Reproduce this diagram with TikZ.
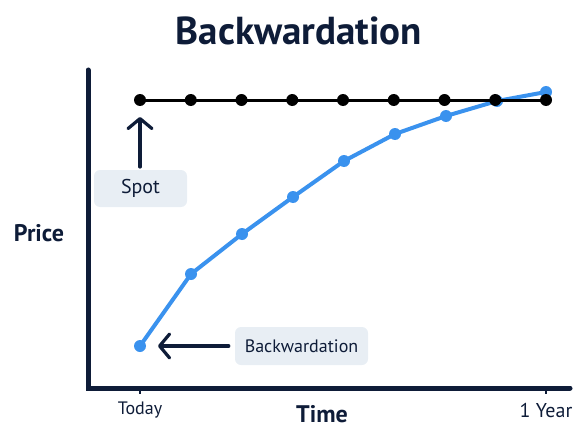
\documentclass[tikz,border=0pt]{standalone}
\usepackage{fontspec}
\setmainfont{PT Sans}
\usetikzlibrary{arrows.meta}
\definecolor{navy}{HTML}{0E1C38}
\definecolor{lineblue}{HTML}{3A92EE}
\definecolor{boxfill}{HTML}{E8EEF4}
\tikzset{
  axisline/.style={navy,line width=5pt,line cap=round},
  spotline/.style={black,line width=3pt},
  bwline/.style={lineblue,line width=4pt,line join=round},
  spotdot/.style={circle,fill=black,inner sep=0pt,minimum size=12pt},
  bwdot/.style={circle,fill=lineblue,inner sep=0pt,minimum size=12pt},
  labelbox/.style={rounded corners=6pt,fill=boxfill,inner sep=0pt,text=navy},
  callout/.style={navy,line width=3.2pt,line cap=round,-{Straight Barb[length=10pt,width=24pt,line width=3.2pt,round]}},
  ticklab/.style={text=navy,font=\fontsize{18}{20}\selectfont},
}
\begin{document}
\begin{tikzpicture}[x=1pt,y=-1pt]
\useasboundingbox (0,0) rectangle (573,428);
% title
\node[text=navy,font=\fontsize{39}{44}\selectfont\bfseries] (title) at (299,31) {Backwardation};
% axes
\coordinate (ytop) at (88,70);
\coordinate (origin) at (88,388);
\coordinate (xend) at (570,388);
\draw[axisline] (ytop) -- (origin) -- (xend);
\coordinate (t0a) at (140,388); \coordinate (t0b) at (140,394);
\coordinate (t1a) at (546,388); \coordinate (t1b) at (546,394);
\draw[navy,line width=1.5pt] (t0a) -- (t0b);
\draw[navy,line width=1.5pt] (t1a) -- (t1b);
\node[ticklab] (today) at (140,410) {Today};
\node[ticklab,font=\fontsize{20}{22}\selectfont] (year) at (546,410) {1 Year};
\node[text=navy,font=\fontsize{24}{26}\selectfont\bfseries] (price) at (39,233) {Price};
\node[text=navy,font=\fontsize{24}{26}\selectfont\bfseries] (time) at (322,414) {Time};
% blue curve
\foreach \i/\x/\y in {1/140/346,2/191/274,3/242/234,4/293/197,5/344/161,6/395/134,7/446/116,8/497/101,9/546/92}
  \coordinate (b\i) at (\x,\y);
\draw[bwline] (b1) \foreach \i in {2,...,9} { -- (b\i) };
\foreach \i in {1,...,9} \node[bwdot] (bd\i) at (b\i) {};
% spot line
\foreach \i/\x in {1/140,2/190.75,3/241.5,4/292.25,5/343,6/393.75,7/444.5,8/495.25,9/546}
  \coordinate (s\i) at (\x,100);
\draw[spotline] (s1) -- (s9);
\foreach \i in {1,...,9} \node[spotdot] (sd\i) at (s\i) {};
% labels
\node[labelbox,minimum width=93pt,minimum height=37pt,font=\fontsize{20}{22}\selectfont] (spot) at (140.5,188.5) {Spot};
\coordinate (spotarrowtop) at (140,117);
\coordinate (spotarrowbot) at (140,167);
\draw[callout] (spotarrowbot) -- (spotarrowtop);
\node[labelbox,minimum width=133pt,minimum height=38pt,font=\fontsize{18}{20}\selectfont] (bwlab) at (301.5,346) {Backwardation};
\coordinate (bwarrowend) at (158,346);
\draw[callout] ([xshift=-6pt]bwlab.west) -- (bwarrowend);
\end{tikzpicture}
\end{document}
